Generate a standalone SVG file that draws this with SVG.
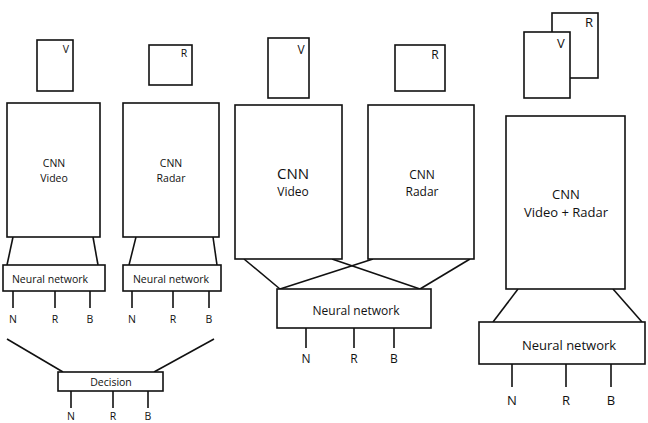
<svg xmlns="http://www.w3.org/2000/svg" width="648" height="423" viewBox="0 0 648 423">
<style>
rect{fill:#fff;stroke:#111;stroke-width:1.6}
line{stroke:#111;stroke-width:1.6}
text{font-family:"Open Sans","Noto Sans",sans-serif;fill:#111;text-anchor:middle}
.s{font-size:10.5px}
.m{font-size:12px}
.l{font-size:13px}
.b{font-size:15px}
</style>
<rect width="648" height="423" style="stroke:none"/>
<g id="connectors">
<line x1="13" y1="237" x2="7" y2="265"/>
<line x1="93" y1="237" x2="98" y2="265"/>
<line x1="136" y1="237" x2="129" y2="265"/>
<line x1="213" y1="237" x2="217" y2="265"/>
<line x1="13" y1="291" x2="13" y2="308"/>
<line x1="55" y1="291" x2="55" y2="308"/>
<line x1="90" y1="291" x2="90" y2="308"/>
<line x1="132" y1="291" x2="132" y2="308"/>
<line x1="173" y1="291" x2="173" y2="308"/>
<line x1="209" y1="291" x2="209" y2="308"/>
<line x1="7" y1="339" x2="63" y2="372"/>
<line x1="214" y1="339" x2="154" y2="372"/>
<line x1="71" y1="391" x2="71" y2="408"/>
<line x1="113" y1="391" x2="113" y2="408"/>
<line x1="148" y1="391" x2="148" y2="408"/>
<line x1="244" y1="259" x2="280" y2="289"/>
<line x1="332" y1="259" x2="420" y2="289"/>
<line x1="373" y1="259" x2="280" y2="289"/>
<line x1="470" y1="259" x2="420" y2="289"/>
<line x1="306" y1="328" x2="306" y2="348"/>
<line x1="354" y1="328" x2="354" y2="348"/>
<line x1="394" y1="328" x2="394" y2="348"/>
<line x1="518" y1="289" x2="493" y2="322"/>
<line x1="613" y1="289" x2="642" y2="322"/>
<line x1="512" y1="364" x2="512" y2="387"/>
<line x1="566" y1="364" x2="566" y2="387"/>
<line x1="611" y1="364" x2="611" y2="387"/>
</g>
<g id="in-v1"><rect x="37" y="40" width="36" height="51"/><text class="s" x="66" y="53">V</text></g>
<g id="in-r1"><rect x="149" y="45" width="43" height="40"/><text class="s" x="184" y="57">R</text></g>
<g id="cnn-video1"><rect x="7" y="103" width="93" height="134"/><text class="s" x="54" y="167">CNN</text><text class="s" x="54" y="182">Video</text></g>
<g id="cnn-radar1"><rect x="123" y="103" width="96" height="134"/><text class="s" x="171" y="167">CNN</text><text class="s" x="171" y="182">Radar</text></g>
<g id="nn1"><rect x="3" y="265" width="102" height="26"/><text class="s" x="50" y="283">Neural network</text></g>
<g id="nn2"><rect x="123" y="265" width="98" height="26"/><text class="s" x="171" y="283">Neural network</text></g>
<g id="out1"><text class="s" x="13" y="323">N</text><text class="s" x="55" y="323">R</text><text class="s" x="90" y="323">B</text></g>
<g id="out2"><text class="s" x="132" y="323">N</text><text class="s" x="173" y="323">R</text><text class="s" x="209" y="323">B</text></g>
<g id="decision"><rect x="58" y="372" width="105" height="19"/><text class="s" x="111" y="386">Decision</text></g>
<g id="out-dec"><text class="s" x="71" y="420">N</text><text class="s" x="113" y="420">R</text><text class="s" x="148" y="420">B</text></g>
<g id="in-v2"><rect x="268" y="38" width="41" height="60"/><text class="m" x="301" y="54">V</text></g>
<g id="in-r2"><rect x="395" y="45" width="50" height="46"/><text class="m" x="435" y="59">R</text></g>
<g id="cnn-video2"><rect x="235" y="105" width="107" height="154"/><text class="b" x="293" y="179">CNN</text><text class="m" x="293" y="196">Video</text></g>
<g id="cnn-radar2"><rect x="368" y="105" width="106" height="154"/><text class="m" x="422" y="179">CNN</text><text class="m" x="422" y="196">Radar</text></g>
<g id="nn3"><rect x="277" y="289" width="154" height="39"/><text class="m" x="356" y="315">Neural network</text></g>
<g id="out3"><text class="m" x="306" y="363">N</text><text class="m" x="354" y="363">R</text><text class="m" x="394" y="363">B</text></g>
<g id="in-r3"><rect x="552" y="13" width="46" height="65"/><text class="l" x="589" y="27">R</text></g>
<g id="in-v3"><rect x="524" y="32" width="46" height="66"/><text class="l" x="561" y="48">V</text></g>
<g id="cnn-vr"><rect x="506" y="116" width="119" height="173"/><text class="l" x="566" y="199">CNN</text><text class="l" x="566" y="217">Video + Radar</text></g>
<g id="nn4"><rect x="479" y="322" width="166" height="42"/><text class="l" x="569" y="350">Neural network</text></g>
<g id="out4"><text class="l" x="512" y="405">N</text><text class="l" x="566" y="405">R</text><text class="l" x="611" y="405">B</text></g>
</svg>
